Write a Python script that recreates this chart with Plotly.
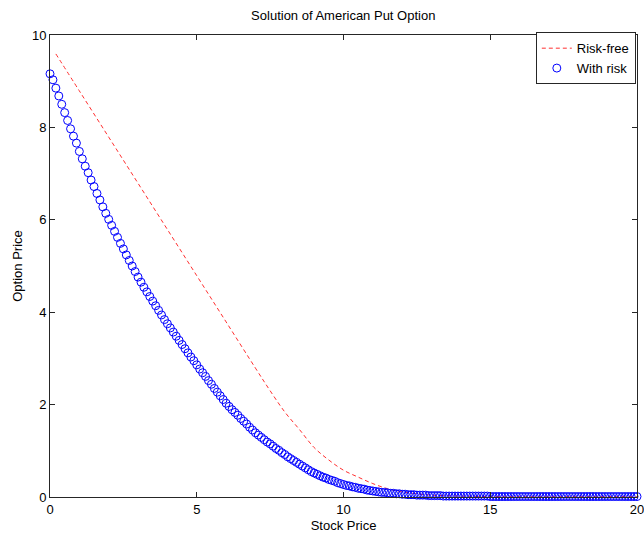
import numpy as np
import plotly.graph_objects as go

# Stock price grid for the "With risk" solution (step 0.1 from 0 to 20)
stock_step = 0.1
stock_grid = np.round(np.arange(0, 201) * stock_step, 1)

with_risk = [
    9.16, 9.03, 8.85, 8.68, 8.50, 8.32, 8.15, 7.97, 7.81, 7.66,
    7.48, 7.32, 7.16, 7.02, 6.86, 6.72, 6.57, 6.43, 6.28, 6.14,
    6.01, 5.88, 5.75, 5.62, 5.49, 5.37, 5.24, 5.12, 5.00, 4.88,
    4.76, 4.65, 4.54, 4.44, 4.34, 4.24, 4.14, 4.04, 3.94, 3.84,
    3.75, 3.66, 3.57, 3.48, 3.39, 3.30, 3.21, 3.12, 3.03, 2.95,
    2.86, 2.77, 2.69, 2.61, 2.52, 2.44, 2.35, 2.27, 2.19, 2.11,
    2.03, 1.96, 1.89, 1.83, 1.77, 1.70, 1.64, 1.58, 1.51, 1.45,
    1.39, 1.34, 1.29, 1.24, 1.19, 1.15, 1.10, 1.05, 1.01, 0.96,
    0.92, 0.87, 0.83, 0.79, 0.75, 0.71, 0.67, 0.63, 0.59, 0.55,
    0.52, 0.49, 0.46, 0.43, 0.41, 0.38, 0.36, 0.34, 0.31, 0.29,
    0.27, 0.25, 0.24, 0.22, 0.21, 0.19, 0.18, 0.17, 0.15, 0.14,
    0.13, 0.12, 0.11, 0.10, 0.10, 0.09, 0.08, 0.08, 0.07, 0.07,
    0.06, 0.06, 0.05, 0.05, 0.05, 0.04, 0.04, 0.04, 0.04, 0.03,
    0.03, 0.03, 0.03, 0.03, 0.02, 0.02, 0.02, 0.02, 0.02, 0.02,
    0.02, 0.02, 0.02, 0.02, 0.02, 0.02, 0.02, 0.02, 0.02, 0.02,
    0.01, 0.01, 0.01, 0.01, 0.01, 0.01, 0.01, 0.01, 0.01, 0.01,
    0.01, 0.01, 0.01, 0.01, 0.01, 0.01, 0.01, 0.01, 0.01, 0.01,
    0.01, 0.01, 0.01, 0.01, 0.01, 0.01, 0.01, 0.01, 0.01, 0.01,
    0.01, 0.01, 0.01, 0.01, 0.01, 0.01, 0.01, 0.01, 0.01, 0.01,
    0.01, 0.01, 0.01, 0.01, 0.01, 0.01, 0.01, 0.01, 0.01, 0.01,
    0.01,
]

risk_free_price = [0.2, 1, 2, 3, 4, 5, 6, 7, 7.5, 8, 8.5, 9, 9.5, 10, 10.5,
                   11, 11.5, 12, 12.5, 13, 14, 15, 20]
risk_free = [9.59, 8.79, 7.79, 6.79, 5.79, 4.79, 3.79, 2.79, 2.30, 1.84,
             1.46, 1.07, 0.80, 0.58, 0.43, 0.29, 0.18, 0.11, 0.07, 0.04,
             0.02, 0.01, 0.01]

x_ticks = [0, 5, 10, 15, 20]
y_ticks = [0, 2, 4, 6, 8, 10]

fig = go.Figure()
fig.add_trace(go.Scatter(
    x=risk_free_price, y=risk_free, mode="lines", name="Risk-free",
    line=dict(color="#ff3030", width=1, dash="4px,3px", shape="spline"),
))
fig.add_trace(go.Scatter(
    x=stock_grid, y=with_risk, mode="markers", name="With risk",
    marker=dict(symbol="circle-open", size=8, color="#0000ff",
                line=dict(width=1, color="#0000ff")),
    cliponaxis=False,
))

axis_common = dict(
    showline=True, linecolor="#262626", linewidth=1, mirror="ticks",
    ticks="inside", ticklen=5, tickcolor="#262626", showgrid=False,
    zeroline=False, tickfont=dict(size=13, color="#000000"),
    ticklabeloverflow="allow",
)

fig.update_layout(
    width=644, height=536,
    margin=dict(l=50, r=7, t=35, b=39, autoexpand=False),
    paper_bgcolor="white", plot_bgcolor="white",
    font=dict(family="Liberation Sans, Arial, sans-serif", size=13, color="#000000"),
    title=dict(text="Solution of American Put Option", x=0.533, xanchor="center",
               y=0.972, yanchor="middle", font=dict(size=13)),
    xaxis=dict(range=[0, 20], tickvals=x_ticks,
               title=dict(text="Stock Price", standoff=5, font=dict(size=13)),
               **axis_common),
    yaxis=dict(range=[0, 10], tickvals=y_ticks,
               title=dict(text="Option Price", standoff=6, font=dict(size=13)),
               **axis_common),
    legend=dict(x=0.998, y=1.006, xanchor="right", yanchor="top",
                bordercolor="#262626", borderwidth=1, bgcolor="white",
                font=dict(size=13), tracegroupgap=0),
    showlegend=True,
)

fig.write_html("out.html", config={"displayModeBar": False},
               post_script="document.body.style.margin='0px';")
